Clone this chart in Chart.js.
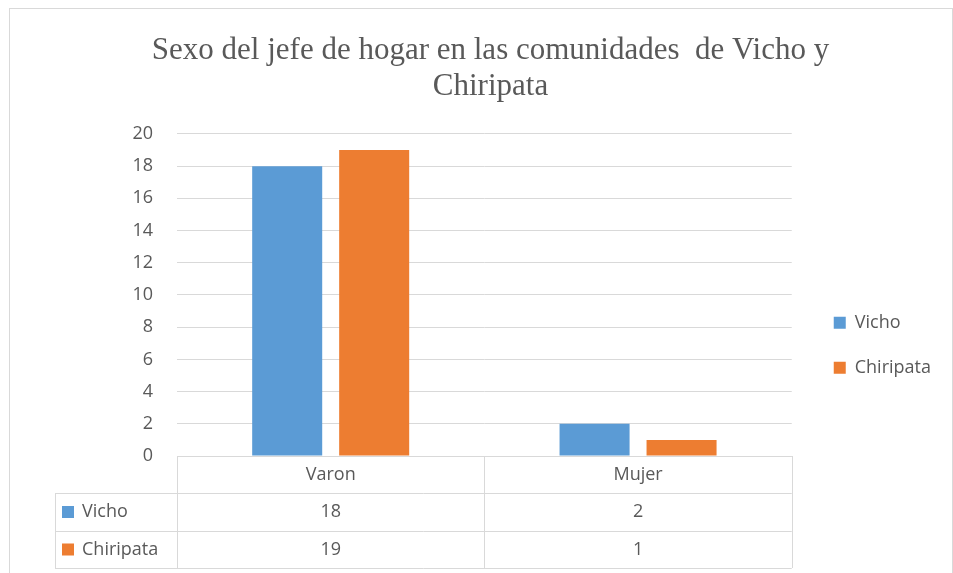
<!DOCTYPE html>
<html>
<head>
<meta charset="utf-8">
<script src="https://cdn.jsdelivr.net/npm/chart.js@4/dist/chart.umd.min.js"></script>
<style>
  body { margin: 0; background: #fff; }
  #c { display: block; }
</style>
</head>
<body>
<canvas id="c" width="953" height="573"></canvas>
<script>
var categories = ['Varon', 'Mujer'];
var vicho = [18, 2];
var chiripata = [19, 1];
var seriesNames = ['Vicho', 'Chiripata'];
var seriesColors = ['#5B9BD5', '#ED7D31'];
var titleLines = ['Sexo del jefe de hogar en las comunidades  de Vicho y', 'Chiripata'];

var textColor = '#595959';
var lineColor = '#D9D9D9';
var sans = '"Open Sans", sans-serif';

// excel-like data table under the plot, plus the outer border
var tablePlugin = {
    id: 'dataTable',
    afterDraw: function (chart) {
        var ctx = chart.ctx;
        var x = chart.scales.x;
        var area = chart.chartArea;
        var n = categories.length;
        var colW = (x.right - x.left) / n;
        var rowH = [area.bottom, area.bottom + 37, area.bottom + 75, area.bottom + 112];
        var labelLeft = 55;

        ctx.save();
        ctx.strokeStyle = lineColor;
        ctx.lineWidth = 1;
        ctx.beginPath();
        // header top
        ctx.moveTo(x.left, rowH[0] + 0.5);
        ctx.lineTo(x.right, rowH[0] + 0.5);
        for (var r = 1; r < rowH.length; r++) {
            ctx.moveTo(labelLeft, Math.round(rowH[r]) + 0.5);
            ctx.lineTo(x.right, Math.round(rowH[r]) + 0.5);
        }
        for (var i = 0; i <= n; i++) {
            var px = Math.round(x.left + i * colW) + 0.5;
            ctx.moveTo(px, rowH[0]);
            ctx.lineTo(px, rowH[3]);
        }
        ctx.moveTo(labelLeft + 0.5, rowH[1]);
        ctx.lineTo(labelLeft + 0.5, rowH[3]);
        ctx.stroke();

        ctx.font = '18px ' + sans;
        ctx.fillStyle = textColor;
        ctx.textBaseline = 'middle';
        ctx.textAlign = 'center';
        var rows = [vicho, chiripata];
        for (var c = 0; c < n; c++) {
            var cx = x.getPixelForValue(c);
            ctx.fillText(categories[c], cx, (rowH[0] + rowH[1]) / 2);
            for (var s = 0; s < rows.length; s++) {
                ctx.fillText(String(rows[s][c]), cx, (rowH[s + 1] + rowH[s + 2]) / 2);
            }
        }
        ctx.textAlign = 'left';
        for (var s2 = 0; s2 < seriesNames.length; s2++) {
            var cy = (rowH[s2 + 1] + rowH[s2 + 2]) / 2;
            ctx.fillStyle = seriesColors[s2];
            ctx.fillRect(62, cy - 6, 12, 12);
            ctx.fillStyle = textColor;
            ctx.fillText(seriesNames[s2], 82, cy);
        }

        ctx.strokeStyle = lineColor;
        ctx.strokeRect(9.5, 8.5, 943, 570);
        ctx.restore();
    }
};

new Chart(document.getElementById('c'), {
    type: 'bar',
    data: {
        labels: categories,
        datasets: [
            { label: seriesNames[0], data: vicho, backgroundColor: seriesColors[0] },
            { label: seriesNames[1], data: chiripata, backgroundColor: seriesColors[1] }
        ]
    },
    options: {
        responsive: false,
        animation: false,
        layout: { padding: { top: 0, right: 12, bottom: 5, left: 40 } },
        datasets: { bar: { categoryPercentage: 0.566, barPercentage: 0.805 } },
        scales: {
            x: {
                grid: { display: false },
                border: { display: false },
                ticks: { display: false },
                afterFit: function (s) { s.height = 112; }
            },
            y: {
                min: 0,
                max: 20,
                ticks: { stepSize: 2, padding: 24, color: textColor, font: { family: sans, size: 18 } },
                grid: { color: lineColor, drawTicks: false },
                border: { display: false },
                afterFit: function (s) { s.width = 137; }
            },
            gap: {
                position: 'right',
                display: true,
                grid: { display: false },
                border: { display: false },
                ticks: { display: false },
                afterFit: function (s) { s.width = 15; }
            }
        },
        plugins: {
            legend: {
                position: 'right',
                title: { display: true, text: '', font: { size: 12 }, padding: { top: 54, bottom: 54 } },
                labels: {
                    color: textColor,
                    font: { family: sans, size: 18 },
                    boxWidth: 12,
                    boxHeight: 12,
                    padding: 27
                }
            },
            title: {
                display: true,
                text: titleLines,
                color: textColor,
                font: { family: '"Liberation Serif", serif', size: 31, weight: 'normal', lineHeight: 1.16 },
                padding: { top: 33, bottom: 29 }
            },
            tooltip: { enabled: false }
        }
    },
    plugins: [tablePlugin]
});
</script>
</body>
</html>
